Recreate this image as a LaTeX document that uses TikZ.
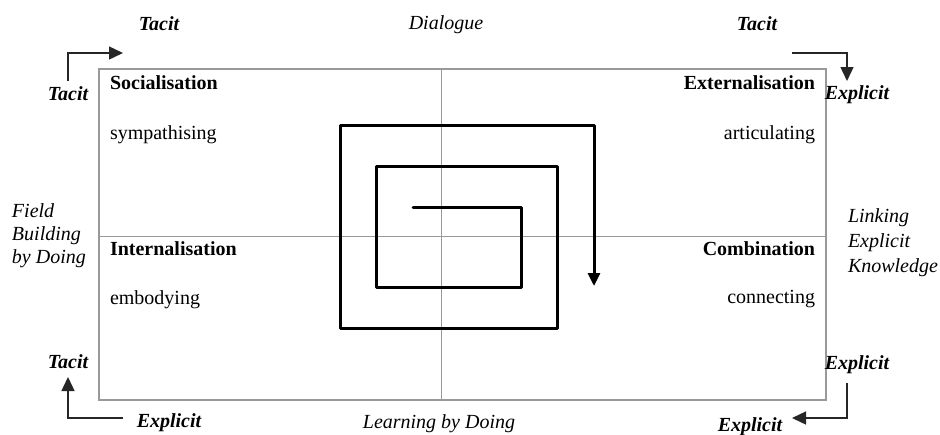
\documentclass[tikz,border=0pt]{standalone}
\usepackage{fontspec}
\setmainfont{Liberation Serif}
\usetikzlibrary{arrows.meta}
\begin{document}
\begin{tikzpicture}[x=1pt,y=-1pt,
  every node/.style={inner sep=0pt,outer sep=0pt,font=\fontsize{20}{23}\selectfont},
  head/.style={font=\bfseries\fontsize{20}{23}\selectfont},
  verb/.style={font=\fontsize{20}{23}\selectfont},
  corner/.style={font=\bfseries\itshape\fontsize{20}{23}\selectfont},
  side/.style={font=\itshape\fontsize{20}{23}\selectfont},
  frame/.style={draw=black!40,line width=1.6pt},
  midline/.style={draw=black!40,line width=0.9pt},
  turn/.style={draw=black!85,line width=1.4pt,-{Triangle[length=14pt,width=13pt]}},
  spiral/.style={draw=black,line width=3pt,line cap=round,line join=round,-{Triangle[length=13pt,width=12pt]}}]
\useasboundingbox (0,0) rectangle (940,434);
\fill[white] (0,0) rectangle (940,434);
% frame
\coordinate (tl) at (99,69);
\coordinate (br) at (826,400);
\draw[frame] (tl) rectangle (br);
\coordinate (mt) at (441,69);
\coordinate (mb) at (441,400);
\coordinate (ml) at (99,236);
\coordinate (mr) at (826,236);
\draw[midline] (mt) -- (mb);
\draw[midline] (ml) -- (mr);
% quadrant texts
\node[head,anchor=base west] (soc) at (110,89) {Socialisation};
\node[verb,anchor=base west] (sym) at (110,139) {sympathising};
\node[head,anchor=base east] (ext) at (815,89) {Externalisation};
\node[verb,anchor=base east] (art) at (815,139) {articulating};
\node[head,anchor=base west] (int) at (110,255) {Internalisation};
\node[verb,anchor=base west] (emb) at (110,304) {embodying};
\node[head,anchor=base east] (com) at (815,255) {Combination};
\node[verb,anchor=base east] (con) at (815,303) {connecting};
% outer labels
\node[corner,anchor=base] (t1) at (159,30) {Tacit};
\node[side,anchor=base] (dia) at (446,29) {Dialogue};
\node[corner,anchor=base] (t2) at (757,30) {Tacit};
\node[corner,anchor=base] (t3) at (68,100) {Tacit};
\node[corner,anchor=base] (e1) at (857,99) {Explicit};
\node[side,anchor=base west,align=left] (fld) at (12,263) {Field\\Building\\by Doing};
\node[side,anchor=base west,align=left] (lnk) at (848,272) {Linking\\[2pt]Explicit\\[2pt]Knowledge};
\node[corner,anchor=base] (t4) at (68,368) {Tacit};
\node[corner,anchor=base] (e2) at (169,427) {Explicit};
\node[side,anchor=base] (lbd) at (439,428) {Learning by Doing};
\node[corner,anchor=base] (e3) at (857,369) {Explicit};
\node[corner,anchor=base] (e4) at (750,431) {Explicit};
% corner arrows
\coordinate (a1s) at (68,81);
\coordinate (a1e) at (123,53);
\draw[turn] (a1s) |- (a1e);
\coordinate (a2s) at (792,53);
\coordinate (a2e) at (847,81);
\draw[turn] (a2s) -| (a2e);
\coordinate (a3s) at (123,418);
\coordinate (a3e) at (68,377);
\draw[turn] (a3s) -| (a3e);
\coordinate (a4s) at (847,383);
\coordinate (a4e) at (792,418);
\draw[turn] (a4s) |- (a4e);
% spiral
\coordinate (s0) at (413,207);
\coordinate (s1) at (521,207);
\coordinate (s2) at (521,287);
\coordinate (s3) at (376,287);
\coordinate (s4) at (376,166);
\coordinate (s5) at (557,166);
\coordinate (s6) at (557,328);
\coordinate (s7) at (340,328);
\coordinate (s8) at (340,125);
\coordinate (s9) at (594,125);
\coordinate (s10) at (594,286);
\draw[spiral] (s0) -- (s1) -- (s2) -- (s3) -- (s4) -- (s5) -- (s6) -- (s7) -- (s8) -- (s9) -- (s10);
\end{tikzpicture}
\end{document}
